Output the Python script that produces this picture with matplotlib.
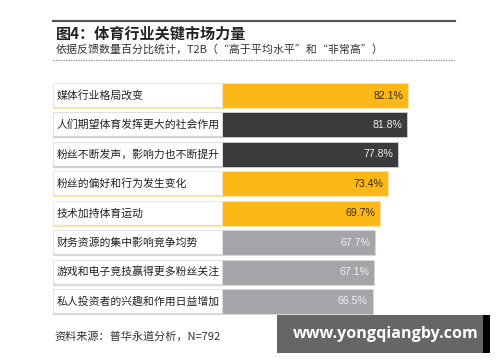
import matplotlib
matplotlib.use('Agg')
import matplotlib.pyplot as plt
from matplotlib.patches import Rectangle
from matplotlib.lines import Line2D

plt.rcParams['font.family'] = ['Noto Sans CJK SC', 'DejaVu Sans']

labels = ['媒体行业格局改变', '人们期望体育发挥更大的社会作用', '粉丝不断发声，影响力也不断提升',
          '粉丝的偏好和行为发生变化', '技术加持体育运动', '财务资源的集中影响竞争均势',
          '游戏和电子竞技赢得更多粉丝关注', '私人投资者的兴趣和作用日益增加']
values = [82.1, 81.8, 77.8, 73.4, 69.7, 67.7, 67.1, 66.5]
groups = ['yellow', 'dark', 'dark', 'yellow', 'yellow', 'grey', 'grey', 'grey']

bar_color = {'yellow': '#fbb817', 'dark': '#3b3b3d', 'grey': '#a3a5a8'}
text_color = {'yellow': '#3a2a10', 'dark': '#f2f2f2', 'grey': '#f0f0f0'}
edge_color = {'yellow': '#f3e3b0', 'dark': '#d2d2d2', 'grey': '#d8d8d8'}

W, H = 500, 362
fig = plt.figure(figsize=(W / 100, H / 100), dpi=100)

def fx(px):
    return px / W

def fy(py):
    return 1 - py / H

# bar axes: x=0 at 222px, 2.266 px per percent
x0, x1 = 222, 455
top, bot = 80.8, 316.2
ax = fig.add_axes([fx(x0), fy(bot), fx(x1 - x0), (bot - top) / H])
scale = 2.266
ax.set_xlim(0, (x1 - x0) / scale)
ax.set_ylim(len(values) - 0.5, -0.5)
ax.axis('off')

cell_left = -(x0 - 53) / scale
bh = 0.85
for i, (lab, v, g) in enumerate(zip(labels, values, groups)):
    ax.barh(i, v, height=bh, color=bar_color[g], edgecolor=edge_color[g], linewidth=0.6)
    ax.add_patch(Rectangle((cell_left, i - bh / 2), -cell_left, bh, facecolor='white',
                           edgecolor=edge_color[g], linewidth=0.5, clip_on=False))
    ax.plot([cell_left, 0], [i + bh / 2, i + bh / 2], color=edge_color[g], lw=1.6,
            clip_on=False, solid_capstyle='butt')
    ax.text(cell_left + 1.5, i, lab, fontsize=7.8, color='#222222', va='center', ha='left')
    ax.text(v - 2.2, i, '%.1f%%' % v, fontsize=7.6, color=text_color[g], va='center', ha='right',
            family=['Liberation Sans', 'DejaVu Sans'])

# header
fig.add_artist(Line2D([fx(53), fx(455)], [fy(21), fy(21)], color='#555555', lw=1.6))
fig.text(fx(56), fy(34), '图4：体育行业关键市场力量', fontsize=10.9, fontweight='bold',
         color='#222222', va='center', ha='left')
fig.text(fx(56), fy(50), '依据反馈数量百分比统计，T2B（“高于平均水平”和“非常高”）', fontsize=7.9,
         color='#333333', va='center', ha='left')
fig.add_artist(Line2D([fx(53), fx(455)], [fy(60), fy(60)], color='#888888', lw=0.9,
                      linestyle=(0, (1, 1))))

# footer
fig.text(fx(54), fy(336), '资料来源：普华永道分析，N=792', fontsize=8, color='#333333',
         va='center', ha='left')

# watermark box
fig.add_artist(Rectangle((fx(277), fy(353)), fx(206), (353 - 315) / H, facecolor='#666666',
                         edgecolor='none'))
fig.add_artist(Rectangle((fx(483), fy(353)), fx(7), (353 - 315) / H, facecolor='#000000',
                         edgecolor='none'))
fig.text(fx(386), fy(334), 'www.yongqiangby.com', fontsize=11.6, fontweight='bold',
         color='white', va='center', ha='center', family=['Open Sans', 'DejaVu Sans'])

fig.savefig('out.png', dpi=100)
